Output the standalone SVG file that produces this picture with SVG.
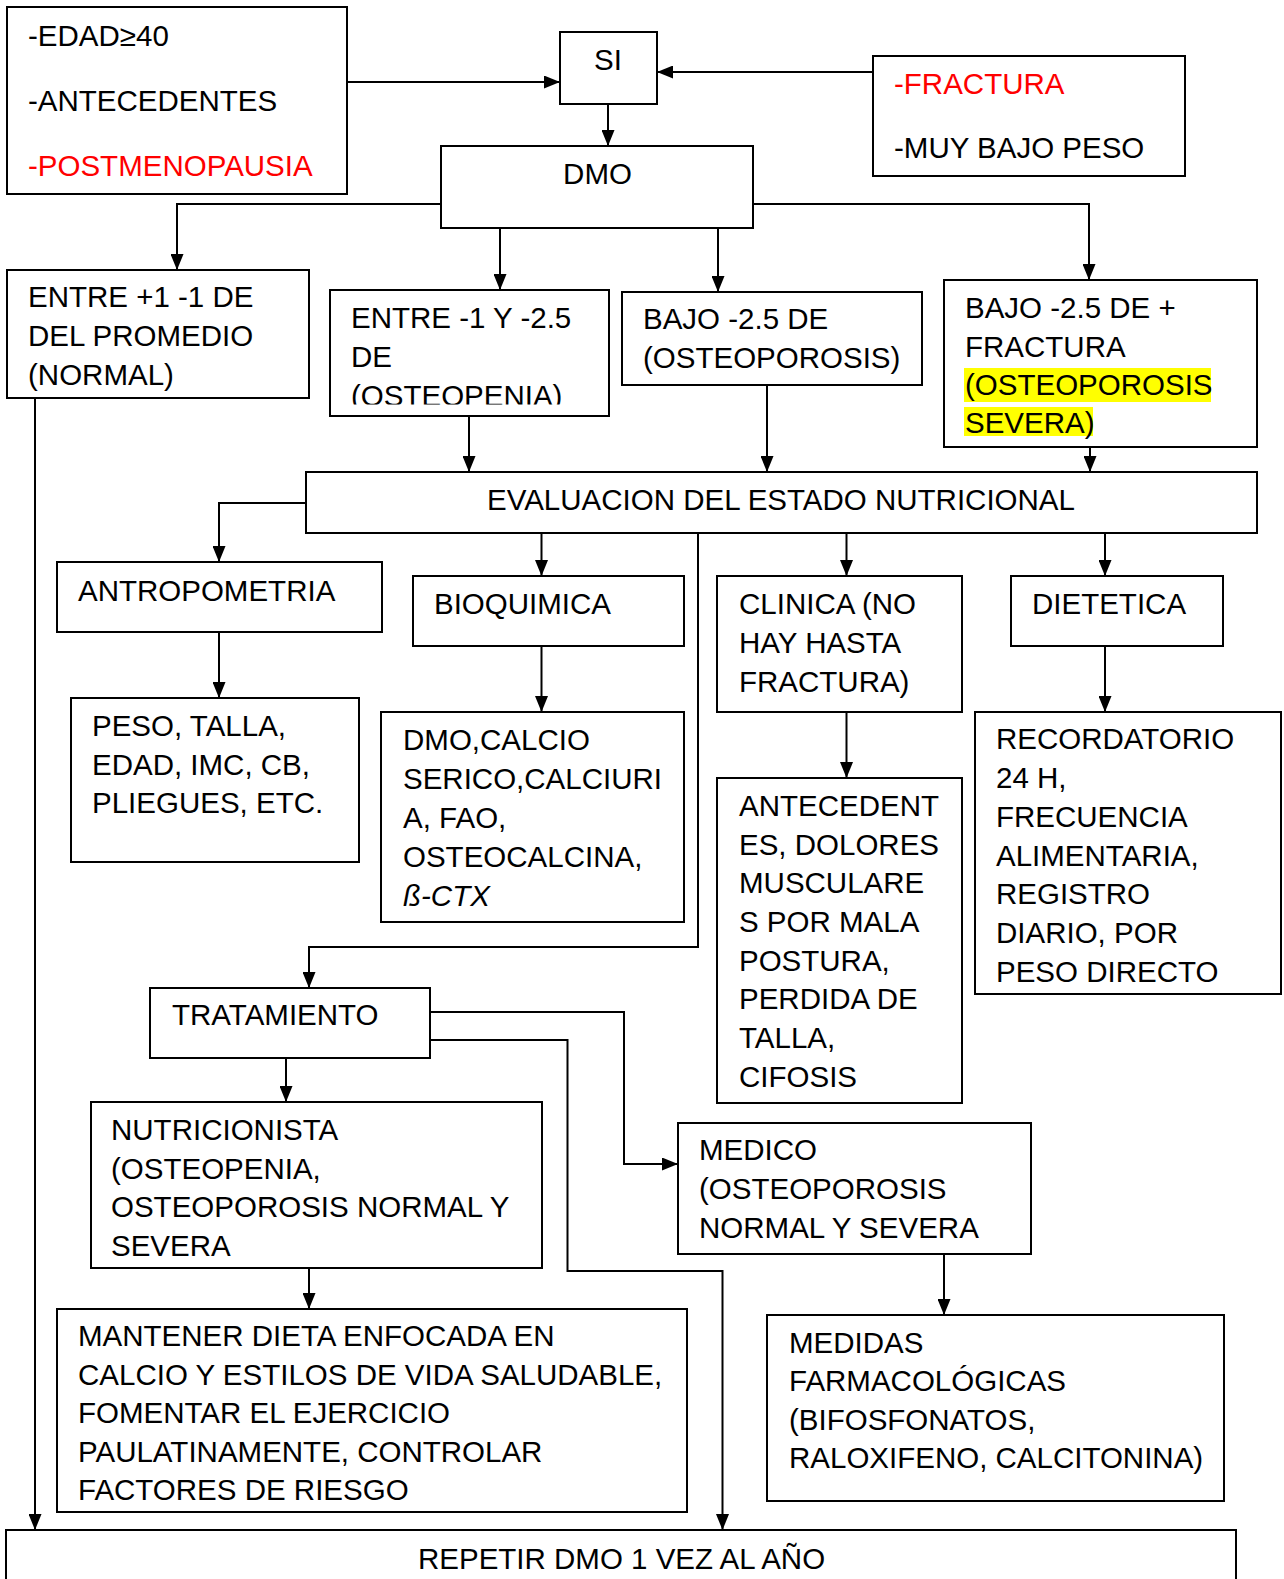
<svg xmlns="http://www.w3.org/2000/svg" width="1284" height="1579" viewBox="0 0 1284 1579">
<style>
.b{fill:#fff;stroke:#000;stroke-width:2}
.t{font-family:"Liberation Sans",Arial,sans-serif;font-size:29.5px;fill:#000}
.r{fill:#ff0000}
.c{fill:none;stroke:#000;stroke-width:2}
.hl{fill:#ffff00}
</style>
<defs>
<marker id="ah" markerUnits="userSpaceOnUse" markerWidth="16" markerHeight="13" refX="16" refY="6.5" orient="auto">
<path d="M0,0 L16,6.5 L0,13 z" fill="#000"/>
</marker>
<clipPath id="clipOsteopenia"><rect x="330" y="290" width="279" height="114.5"/></clipPath>
</defs>
<rect width="1284" height="1579" fill="#fff"/>

<g id="connectors">
<path class="c" d="M347,82 H560" marker-end="url(#ah)"/>
<path class="c" d="M873,72 H657" marker-end="url(#ah)"/>
<path class="c" d="M608,104 V146" marker-end="url(#ah)"/>
<path class="c" d="M441,204 H177 V270" marker-end="url(#ah)"/>
<path class="c" d="M500,228 V290" marker-end="url(#ah)"/>
<path class="c" d="M718,228 V292" marker-end="url(#ah)"/>
<path class="c" d="M753,204 H1089 V280" marker-end="url(#ah)"/>
<path class="c" d="M469,416 V472" marker-end="url(#ah)"/>
<path class="c" d="M767,385 V472" marker-end="url(#ah)"/>
<path class="c" d="M1090,447 V472" marker-end="url(#ah)"/>
<path class="c" d="M306,503 H219 V562" marker-end="url(#ah)"/>
<path class="c" d="M541.5,533 V576" marker-end="url(#ah)"/>
<path class="c" d="M846.5,533 V576" marker-end="url(#ah)"/>
<path class="c" d="M1105,533 V576" marker-end="url(#ah)"/>
<path class="c" d="M219,632 V698" marker-end="url(#ah)"/>
<path class="c" d="M541.5,646 V712" marker-end="url(#ah)"/>
<path class="c" d="M846.5,712 V778" marker-end="url(#ah)"/>
<path class="c" d="M1105,646 V712" marker-end="url(#ah)"/>
<path class="c" d="M698,533 V947 H309 V988" marker-end="url(#ah)"/>
<path class="c" d="M430,1012 H624 V1164 H678" marker-end="url(#ah)"/>
<path class="c" d="M430,1040 H567.5 V1271 H722.5 V1530" marker-end="url(#ah)"/>
<path class="c" d="M286,1058 V1102" marker-end="url(#ah)"/>
<path class="c" d="M309,1268 V1309" marker-end="url(#ah)"/>
<path class="c" d="M944,1254 V1315" marker-end="url(#ah)"/>
<path class="c" d="M35,398 V1530" marker-end="url(#ah)"/>
</g>

<g id="n-criterios">
<rect class="b" x="7" y="7" width="340" height="187"/>
<text class="t" x="28" y="46">-EDAD≥40</text>
<text class="t" x="28" y="111">-ANTECEDENTES</text>
<text class="t r" x="28" y="176">-POSTMENOPAUSIA</text>
</g>

<g id="n-si">
<rect class="b" x="560" y="32" width="97" height="72"/>
<text class="t" x="608" y="70" text-anchor="middle">SI</text>
</g>

<g id="n-fractura">
<rect class="b" x="873" y="56" width="312" height="120"/>
<text class="t r" x="894" y="94">-FRACTURA</text>
<text class="t" x="894" y="158">-MUY BAJO PESO</text>
</g>

<g id="n-dmo">
<rect class="b" x="441" y="146" width="312" height="82"/>
<text class="t" x="597.5" y="184" text-anchor="middle">DMO</text>
</g>

<g id="n-normal">
<rect class="b" x="7" y="270" width="302" height="128"/>
<text class="t" x="28" y="307">ENTRE +1 -1 DE</text>
<text class="t" x="28" y="346">DEL PROMEDIO</text>
<text class="t" x="28" y="385">(NORMAL)</text>
</g>

<g id="n-osteopenia">
<rect class="b" x="330" y="290" width="279" height="126"/>
<g clip-path="url(#clipOsteopenia)">
<text class="t" x="351" y="328">ENTRE -1 Y -2.5</text>
<text class="t" x="351" y="367">DE</text>
<text class="t" x="351" y="406">(OSTEOPENIA)</text>
</g>
</g>

<g id="n-osteoporosis">
<rect class="b" x="622" y="292" width="300" height="93"/>
<text class="t" x="643" y="329">BAJO -2.5 DE</text>
<text class="t" x="643" y="368">(OSTEOPOROSIS)</text>
</g>

<g id="n-severa">
<rect class="b" x="944" y="280" width="313" height="167"/>
<rect class="hl" x="964" y="368" width="247" height="34"/>
<rect class="hl" x="964" y="407" width="129" height="29"/>
<text class="t" x="965" y="318">BAJO -2.5 DE +</text>
<text class="t" x="965" y="357">FRACTURA</text>
<text class="t" x="965" y="395">(OSTEOPOROSIS</text>
<text class="t" x="965" y="433">SEVERA)</text>
</g>

<g id="n-eval">
<rect class="b" x="306" y="472" width="951" height="61"/>
<text class="t" x="487" y="510">EVALUACION DEL ESTADO NUTRICIONAL</text>
</g>

<g id="n-antropometria">
<rect class="b" x="57" y="562" width="325" height="70"/>
<text class="t" x="78" y="601">ANTROPOMETRIA</text>
</g>

<g id="n-bioquimica">
<rect class="b" x="413" y="576" width="271" height="70"/>
<text class="t" x="434" y="614">BIOQUIMICA</text>
</g>

<g id="n-clinica">
<rect class="b" x="717" y="576" width="245" height="136"/>
<text class="t" x="739" y="614">CLINICA (NO</text>
<text class="t" x="739" y="653">HAY HASTA</text>
<text class="t" x="739" y="692">FRACTURA)</text>
</g>

<g id="n-dietetica">
<rect class="b" x="1011" y="576" width="212" height="70"/>
<text class="t" x="1032" y="614">DIETETICA</text>
</g>

<g id="n-peso">
<rect class="b" x="71" y="698" width="288" height="164"/>
<text class="t" x="92" y="736">PESO, TALLA,</text>
<text class="t" x="92" y="775">EDAD, IMC, CB,</text>
<text class="t" x="92" y="813">PLIEGUES, ETC.</text>
</g>

<g id="n-dmocalcio">
<rect class="b" x="381" y="712" width="303" height="210"/>
<text class="t" x="403" y="750">DMO,CALCIO</text>
<text class="t" x="403" y="789">SERICO,CALCIURI</text>
<text class="t" x="403" y="828">A, FAO,</text>
<text class="t" x="403" y="867">OSTEOCALCINA,</text>
<text class="t" x="403" y="906" font-style="italic">ß-CTX</text>
</g>

<g id="n-antecedentes">
<rect class="b" x="717" y="778" width="245" height="325"/>
<text class="t" x="739" y="816">ANTECEDENT</text>
<text class="t" x="739" y="855">ES, DOLORES</text>
<text class="t" x="739" y="893">MUSCULARE</text>
<text class="t" x="739" y="932">S POR MALA</text>
<text class="t" x="739" y="971">POSTURA,</text>
<text class="t" x="739" y="1009">PERDIDA DE</text>
<text class="t" x="739" y="1048">TALLA,</text>
<text class="t" x="739" y="1087">CIFOSIS</text>
</g>

<g id="n-recordatorio">
<rect class="b" x="975" y="712" width="306" height="282"/>
<text class="t" x="996" y="749">RECORDATORIO</text>
<text class="t" x="996" y="788">24 H,</text>
<text class="t" x="996" y="827">FRECUENCIA</text>
<text class="t" x="996" y="866">ALIMENTARIA,</text>
<text class="t" x="996" y="904">REGISTRO</text>
<text class="t" x="996" y="943">DIARIO, POR</text>
<text class="t" x="996" y="982">PESO DIRECTO</text>
</g>

<g id="n-tratamiento">
<rect class="b" x="150" y="988" width="280" height="70"/>
<text class="t" x="172" y="1025">TRATAMIENTO</text>
</g>

<g id="n-nutricionista">
<rect class="b" x="91" y="1102" width="451" height="166"/>
<text class="t" x="111" y="1140">NUTRICIONISTA</text>
<text class="t" x="111" y="1179">(OSTEOPENIA,</text>
<text class="t" x="111" y="1217">OSTEOPOROSIS NORMAL Y</text>
<text class="t" x="111" y="1256">SEVERA</text>
</g>

<g id="n-medico">
<rect class="b" x="678" y="1123" width="353" height="131"/>
<text class="t" x="699" y="1160">MEDICO</text>
<text class="t" x="699" y="1199">(OSTEOPOROSIS</text>
<text class="t" x="699" y="1238">NORMAL Y SEVERA</text>
</g>

<g id="n-mantener">
<rect class="b" x="57" y="1309" width="630" height="203"/>
<text class="t" x="78" y="1346">MANTENER DIETA ENFOCADA EN</text>
<text class="t" x="78" y="1385">CALCIO Y ESTILOS DE VIDA SALUDABLE,</text>
<text class="t" x="78" y="1423">FOMENTAR EL EJERCICIO</text>
<text class="t" x="78" y="1462">PAULATINAMENTE, CONTROLAR</text>
<text class="t" x="78" y="1500">FACTORES DE RIESGO</text>
</g>

<g id="n-medidas">
<rect class="b" x="767" y="1315" width="457" height="186"/>
<text class="t" x="789" y="1353">MEDIDAS</text>
<text class="t" x="789" y="1391">FARMACOLÓGICAS</text>
<text class="t" x="789" y="1430">(BIFOSFONATOS,</text>
<text class="t" x="789" y="1468">RALOXIFENO, CALCITONINA)</text>
</g>

<g id="n-repetir">
<rect class="b" x="6" y="1530" width="1230" height="60"/>
<text class="t" x="418" y="1569">REPETIR DMO 1 VEZ AL AÑO</text>
</g>
</svg>
